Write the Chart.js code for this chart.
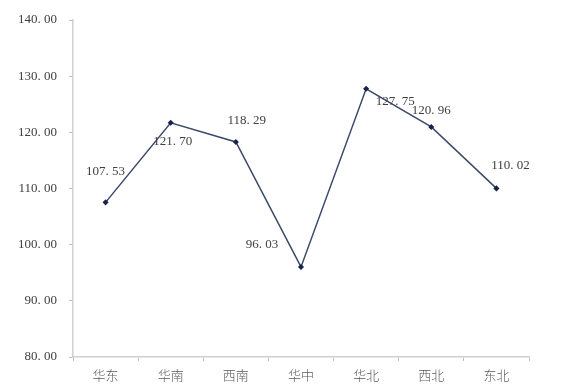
<!DOCTYPE html>
<html>
<head>
<meta charset="utf-8">
<script src="https://cdn.jsdelivr.net/npm/chart.js@4.4.0/dist/chart.umd.min.js"></script>
<style>
  html, body { margin: 0; padding: 0; background: #fff; }
  #wrap { width: 565px; height: 389px; }
</style>
</head>
<body>
<div id="wrap"><canvas id="chart"></canvas></div>
<script>
// data
const regions = ["华东", "华南", "西南", "华中", "华北", "西北", "东北"];
const values = [107.53, 121.70, 118.29, 96.03, 127.75, 120.96, 110.02];
const yTicks = [80, 90, 100, 110, 120, 130, 140];

// where each value label sits relative to its point (px)
const labelShift = [[0, -31], [2, 19], [11, -21], [-39, -22], [29, 13], [0, -16], [14, -23]];

const serif = "'Liberation Serif', 'Noto Sans CJK SC', serif";
const cjk = "'Noto Sans CJK SC', serif";

const valueLabels = {
  id: "valueLabels",
  afterDatasetsDraw(chart) {
    const ctx = chart.ctx;
    const meta = chart.getDatasetMeta(0);
    ctx.save();
    ctx.font = "13px " + serif;
    ctx.fillStyle = "#404040";
    ctx.textAlign = "center";
    ctx.textBaseline = "middle";
    meta.data.forEach((pt, i) => {
      const txt = values[i].toFixed(2).replace(".", ". ");
      ctx.fillText(txt, pt.x + labelShift[i][0], pt.y + labelShift[i][1]);
    });
    ctx.restore();
  }
};

new Chart(document.getElementById("chart"), {
  type: "line",
  data: {
    labels: regions,
    datasets: [{
      data: values,
      borderColor: "#3b4a6b",
      borderWidth: 1.5,
      pointRadius: 2,
      pointBackgroundColor: "#1a2350",
      pointBorderColor: "#1a2350",
      pointStyle: "rectRot",
      tension: 0
    }]
  },
  options: {
    responsive: true,
    maintainAspectRatio: false,
    animation: false,
    layout: { padding: { top: 20, right: 36, left: 0, bottom: 0 } },
    plugins: {
      legend: { display: false },
      tooltip: { enabled: false }
    },
    scales: {
      x: {
        offset: true,
        grid: { display: true, offset: true, drawOnChartArea: false, tickLength: 4, tickColor: "#bfbfbf" },
        border: { color: "#d0d0d0", width: 1.5 },
        ticks: { color: "#595959", font: { size: 13, family: cjk, weight: 300 }, padding: 6 },
        afterFit(scale) { scale.height = 32; }
      },
      y: {
        min: 80,
        max: 140,
        afterBuildTicks(scale) { scale.ticks = yTicks.map(v => ({ value: v })); },
        grid: { display: true, drawOnChartArea: false, tickLength: 4, tickColor: "#bfbfbf" },
        border: { color: "#d0d0d0", width: 1.5 },
        ticks: {
          color: "#404040",
          font: { size: 13, family: serif },
          padding: 12,
          callback: v => v.toFixed(2).replace(".", ". ")
        },
        afterFit(scale) { scale.width = 73; }
      }
    }
  },
  plugins: [valueLabels]
});
</script>
</body>
</html>
